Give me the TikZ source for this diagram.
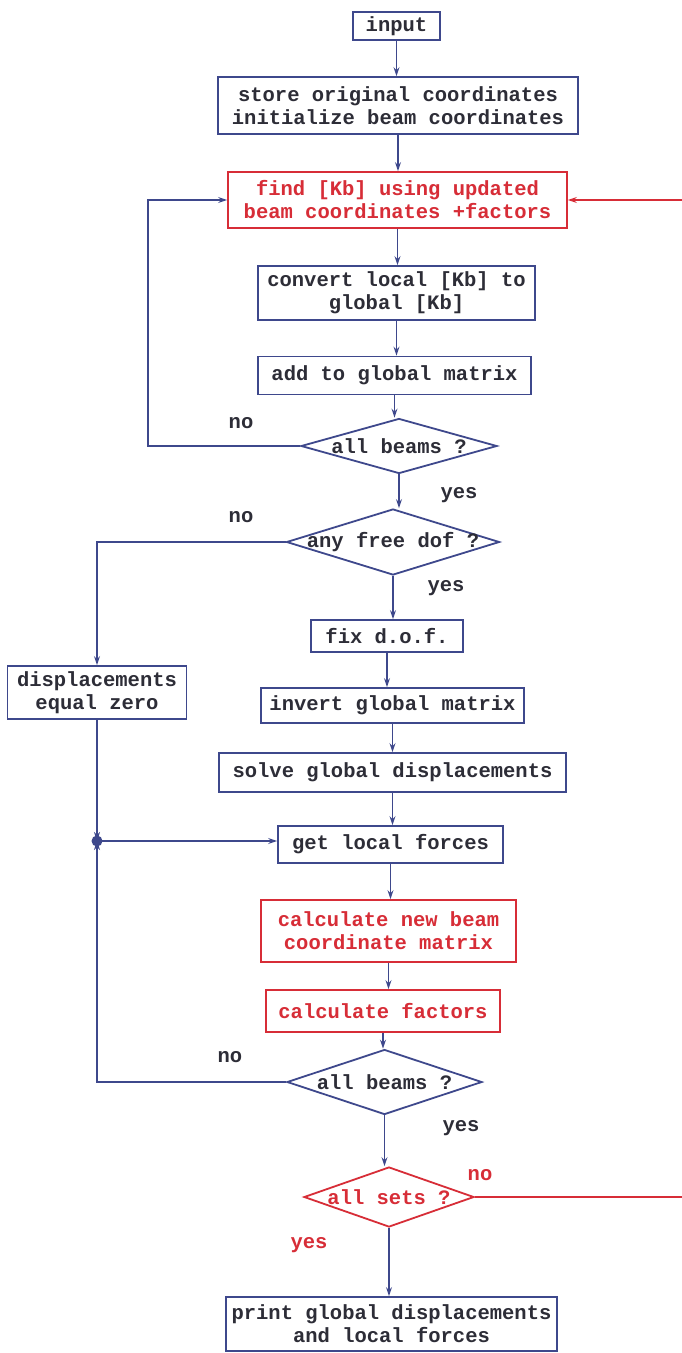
\documentclass[tikz,border=0pt]{standalone}
\usepackage{fontspec}
\setmonofont{Liberation Mono}
\usetikzlibrary{shapes.geometric,arrows.meta}
\definecolor{bl}{RGB}{62,72,140}
\definecolor{rd}{RGB}{215,45,55}
\definecolor{tx}{RGB}{45,45,55}
\begin{document}
\begin{tikzpicture}[x=1pt,y=-1pt,
  txt/.style={font=\ttfamily\bfseries\fontsize{20.5}{23}\selectfont, text=tx, align=center, inner sep=1pt},
  bbox/.style={txt, draw=bl, line width=1.8pt, rectangle, inner sep=2pt},
  rbox/.style={bbox, draw=rd, text=rd},
  dia/.style={diamond, draw=bl, line width=1.8pt, inner sep=0pt},
  rdia/.style={dia, draw=rd},
  tip/.style={-{Stealth[length=9pt,width=6pt]}},
  flow/.style={draw=bl, line width=1.8pt, tip},
  rflow/.style={draw=rd, line width=1.8pt, tip},
  lab/.style={txt},
  rlab/.style={txt, text=rd}
]
\useasboundingbox[fill=white] (0,0) rectangle (682,1353);
\clip (0,0) rectangle (682,1353);

\node[bbox, minimum width=87pt, minimum height=28pt] (input) at (396.5,26) {input};
\node[bbox, minimum width=360pt, minimum height=57pt] (store) at (398,105.5) {store original coordinates\\initialize beam coordinates};
\node[rbox, minimum width=339pt, minimum height=56pt] (find) at (397.5,200) {find [Kb] using updated\\beam coordinates +factors};
\node[bbox, minimum width=277pt, minimum height=54pt] (convert) at (396.5,293) {convert local [Kb] to\\global [Kb]};
\node[bbox, minimum width=273pt, minimum height=38pt] (add) at (394.5,375.5) {add to global matrix};
\node[dia, minimum width=196pt, minimum height=55pt, label={[txt]center:all beams ?}] (d1) at (399,446) {};
\node[dia, minimum width=213pt, minimum height=66pt, label={[txt]center:any free dof ?}] (dof) at (393,542) {};
\node[bbox, minimum width=152pt, minimum height=32pt] (fix) at (387,636) {fix d.o.f.};
\node[bbox, minimum width=179pt, minimum height=53pt] (disp) at (97,692.5) {displacements\\equal zero};
\node[bbox, minimum width=263pt, minimum height=35pt] (invert) at (392.5,705.5) {invert global matrix};
\node[bbox, minimum width=347pt, minimum height=39pt] (solve) at (392.5,772.5) {solve global displacements};
\node[bbox, minimum width=225pt, minimum height=37pt] (get) at (390.5,844.5) {get local forces};
\node[rbox, minimum width=255pt, minimum height=62pt] (calcnew) at (388.5,931) {calculate new beam\\coordinate matrix};
\node[rbox, minimum width=234pt, minimum height=42pt] (calcfac) at (383,1011) {calculate factors};
\node[dia, minimum width=195pt, minimum height=65pt, label={[txt]center:all beams ?}] (d2) at (384.5,1082) {};
\node[rdia, minimum width=170pt, minimum height=60pt, label={[txt,text=rd]center:all sets ?}] (sets) at (389,1197) {};
\node[bbox, minimum width=331pt, minimum height=54pt] (print) at (391.5,1324) {print global displacements\\and local forces};

\coordinate (dot) at (97,841);
\coordinate (loopL) at (148,446);
\coordinate (redR1) at (692,1197);

% main flow
\draw[flow] (input.south) -- (input.south |- store.north);
\draw[flow] (store.south) -- (store.south |- find.north);
\draw[flow] (find.south) -- (find.south |- convert.north);
\draw[flow] (convert.south) -- (convert.south |- add.north);
\draw[flow] (add.south) -- (add.south |- d1.north);
\draw[flow] (d1.south) -- (d1.south |- dof.north);
\draw[flow] (dof.south) -- (dof.south |- fix.north);
\draw[flow] (fix.south) -- (fix.south |- invert.north);
\draw[flow] (invert.south) -- (invert.south |- solve.north);
\draw[flow] (solve.south) -- (solve.south |- get.north);
\draw[flow] (get.south) -- (get.south |- calcnew.north);
\draw[flow] (calcnew.south) -- (calcnew.south |- calcfac.north);
\draw[flow] (calcfac.south) -- (calcfac.south |- d2.north);
\draw[flow] (d2.south) -- (d2.south |- sets.north);
\draw[flow] (sets.south) -- (sets.south |- print.north);

% loop back from first all beams
\draw[flow] (d1.west) -- (loopL) |- (find.west);
% no free dof branch
\draw[flow] (dof.west) -| (disp.north);
\draw[flow] (disp.south) -- (dot);
\draw[flow] (dot) -- (dot -| get.west);
\draw[flow] (d2.west) -| (dot);
\fill[bl] (dot) circle (5.5pt);
% red loop
\draw[rflow] (sets.east) -- (redR1) |- (find.east);

% labels
\node[lab] (no1) at (241,423) {no};
\node[lab] (yes1) at (459,495) {yes};
\node[lab] (no2) at (241,517) {no};
\node[lab] (yes2) at (446,588) {yes};
\node[lab] (no3) at (230,1057) {no};
\node[lab] (yes3) at (461,1128) {yes};
\node[rlab] (no4) at (480,1175) {no};
\node[rlab] (yes4) at (309,1245) {yes};
\end{tikzpicture}
\end{document}
